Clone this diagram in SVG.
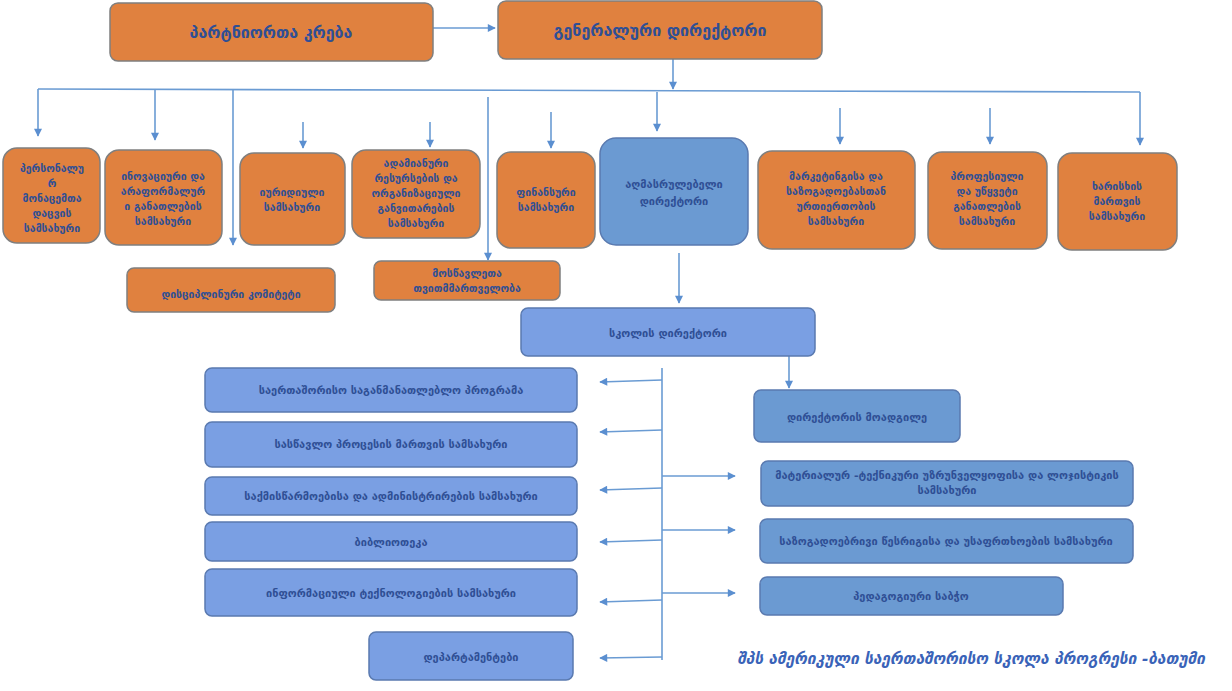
<svg xmlns="http://www.w3.org/2000/svg" width="1232" height="691" viewBox="0 0 1232 691">
<defs>
<marker id="ah" viewBox="0 0 10 10" refX="9" refY="5" markerWidth="9" markerHeight="8" markerUnits="userSpaceOnUse" orient="auto"><path d="M0,0 L10,5 L0,10 z" fill="#5b8fd0"/></marker>
<style>
.or{fill:#e0813f;stroke:#7f7f7f;stroke-width:1.5}
.bl{fill:#7a9fe3;stroke:#5a7ab0;stroke-width:1.5}
.bd{fill:#6b9ad2;stroke:#5a7ab0;stroke-width:1.5}
.t{font-family:"DejaVu Sans","Noto Sans",sans-serif;fill:#2f4f95;text-anchor:middle;font-weight:bold}
.big{font-size:16px}
.sm{font-size:10.5px}
.md{font-size:11px}
.c{stroke:#6a9bd3;stroke-width:1.6;fill:none}
.a{marker-end:url(#ah)}
.ft{font-family:"DejaVu Sans",sans-serif;font-style:italic;font-weight:bold;font-size:15.5px;fill:#3a63b8}
</style>
</defs>
<rect width="1232" height="691" fill="#ffffff"/>
<g id="connectors">
<path class="c a" d="M433,28 L495,28"/>
<path class="c a" d="M673,59 L673,89"/>
<path class="c" d="M38,89 L1140,92"/>
<path class="c a" d="M38,89 L38,136"/>
<path class="c a" d="M155,90 L155,140"/>
<path class="c a" d="M233,90 L233,245"/>
<path class="c a" d="M303,122 L303,148"/>
<path class="c a" d="M430,122 L430,147"/>
<path class="c a" d="M488,97 L488,260"/>
<path class="c a" d="M551,112 L551,148"/>
<path class="c a" d="M657,92 L657,131"/>
<path class="c a" d="M840,108 L840,144"/>
<path class="c a" d="M990,108 L990,144"/>
<path class="c a" d="M1140,92 L1140,145"/>
<path class="c a" d="M679,253 L679,303"/>
<path class="c a" d="M789,356 L789,388"/>
<path class="c" d="M662,368 L662,660"/>
<path class="c a" d="M662,380 L600,382"/>
<path class="c a" d="M662,430 L600,432"/>
<path class="c a" d="M662,488 L600,490"/>
<path class="c a" d="M662,540 L600,542"/>
<path class="c a" d="M662,600 L600,602"/>
<path class="c a" d="M662,657 L600,658"/>
<path class="c a" d="M662,476 L735,476"/>
<path class="c a" d="M662,530 L735,530"/>
<path class="c a" d="M662,593 L735,593"/>
</g>
<g id="n-partners"><rect class="or" x="110" y="3" width="323" height="58" rx="8"/><text class="t big" x="271" y="38">პარტნიორთა კრება</text></g>
<g id="n-general"><rect class="or" x="498" y="1" width="324" height="58" rx="8"/><text class="t big" x="660" y="36">გენერალური დირექტორი</text></g>
<g id="n-personal"><rect class="or" x="3" y="148" width="97" height="95" rx="14"/><text class="t sm" x="52" y="172">პერსონალუ<tspan x="52" dy="15">რ</tspan><tspan x="52" dy="15">მონაცემთა</tspan><tspan x="52" dy="15">დაცვის</tspan><tspan x="52" dy="15">სამსახური</tspan></text></g>
<g id="n-innov"><rect class="or" x="105" y="150" width="117" height="95" rx="14"/><text class="t sm" x="163" y="180">ინოვაციური და<tspan x="163" dy="15">არაფორმალურ</tspan><tspan x="163" dy="15">ი განათლების</tspan><tspan x="163" dy="15">სამსახური</tspan></text></g>
<g id="n-legal"><rect class="or" x="240" y="153" width="105" height="92" rx="14"/><text class="t sm" x="292" y="196">იურიდიული<tspan x="292" dy="15">სამსახური</tspan></text></g>
<g id="n-hr"><rect class="or" x="352" y="150" width="128" height="88" rx="14"/><text class="t sm" x="416" y="167">ადამიანური<tspan x="416" dy="15">რესურსების და</tspan><tspan x="416" dy="15">ორგანიზაციული</tspan><tspan x="416" dy="15">განვითარების</tspan><tspan x="416" dy="15">სამსახური</tspan></text></g>
<g id="n-fin"><rect class="or" x="497" y="152" width="98" height="96" rx="14"/><text class="t sm" x="546" y="196">ფინანსური<tspan x="546" dy="15">სამსახური</tspan></text></g>
<g id="n-exec"><rect class="bd" x="600" y="138" width="148" height="107" rx="16"/><text class="t md" x="674" y="188">აღმასრულებელი<tspan x="674" dy="17">დირექტორი</tspan></text></g>
<g id="n-market"><rect class="or" x="758" y="151" width="157" height="98" rx="14"/><text class="t sm" x="836" y="180">მარკეტინგისა და<tspan x="836" dy="15">საზოგადოებასთან</tspan><tspan x="836" dy="15">ურთიერთობის</tspan><tspan x="836" dy="15">სამსახური</tspan></text></g>
<g id="n-prof"><rect class="or" x="928" y="152" width="119" height="97" rx="14"/><text class="t sm" x="987" y="180">პროფესიული<tspan x="987" dy="15">და უწყვეტი</tspan><tspan x="987" dy="15">განათლების</tspan><tspan x="987" dy="15">სამსახური</tspan></text></g>
<g id="n-quality"><rect class="or" x="1058" y="153" width="119" height="97" rx="14"/><text class="t sm" x="1117" y="190">ხარისხის<tspan x="1117" dy="15">მართვის</tspan><tspan x="1117" dy="15">სამსახური</tspan></text></g>
<g id="n-disc"><rect class="or" x="127" y="268" width="208" height="44" rx="7"/><text class="t sm" x="231" y="298">დისციპლინური კომიტეტი</text></g>
<g id="n-students"><rect class="or" x="374" y="261" width="186" height="39" rx="7"/><text class="t sm" x="467" y="277">მოსწავლეთა<tspan x="467" dy="15">თვითმმართველობა</tspan></text></g>
<g id="n-school"><rect class="bl" x="521" y="308" width="294" height="48" rx="7"/><text class="t md" x="668" y="337">სკოლის დირექტორი</text></g>
<g id="n-intl"><rect class="bl" x="205" y="368" width="372" height="44" rx="7"/><text class="t md" x="391" y="394">საერთაშორისო საგანმანათლებლო პროგრამა</text></g>
<g id="n-learn"><rect class="bl" x="205" y="422" width="372" height="45" rx="7"/><text class="t md" x="391" y="448">სასწავლო პროცესის მართვის სამსახური</text></g>
<g id="n-admin"><rect class="bl" x="205" y="477" width="372" height="38" rx="7"/><text class="t md" x="391" y="500">საქმისწარმოებისა და ადმინისტრირების სამსახური</text></g>
<g id="n-lib"><rect class="bl" x="205" y="522" width="372" height="39" rx="7"/><text class="t md" x="391" y="546">ბიბლიოთეკა</text></g>
<g id="n-it"><rect class="bl" x="205" y="569" width="372" height="47" rx="7"/><text class="t md" x="391" y="597">ინფორმაციული ტექნოლოგიების სამსახური</text></g>
<g id="n-dept"><rect class="bl" x="369" y="632" width="204" height="48" rx="7"/><text class="t md" x="471" y="661">დეპარტამენტები</text></g>
<g id="n-deputy"><rect class="bd" x="754" y="390" width="206" height="52" rx="7"/><text class="t md" x="857" y="421">დირექტორის მოადგილე</text></g>
<g id="n-logist"><rect class="bd" x="761" y="461" width="372" height="45" rx="7"/><text class="t md" x="947" y="479">მატერიალურ -ტექნიკური უზრუნველყოფისა და ლოჯისტიკის<tspan x="947" dy="15">სამსახური</tspan></text></g>
<g id="n-safety"><rect class="bd" x="760" y="519" width="373" height="44" rx="7"/><text class="t md" x="946" y="545">საზოგადოებრივი წესრიგისა და უსაფრთხოების სამსახური</text></g>
<g id="n-ped"><rect class="bd" x="760" y="577" width="303" height="38" rx="7"/><text class="t md" x="911" y="600">პედაგოგიური საბჭო</text></g>
<text class="ft" x="1205" y="664" text-anchor="end">შპს ამერიკული საერთაშორისო სკოლა პროგრესი -ბათუმი</text>
</svg>
